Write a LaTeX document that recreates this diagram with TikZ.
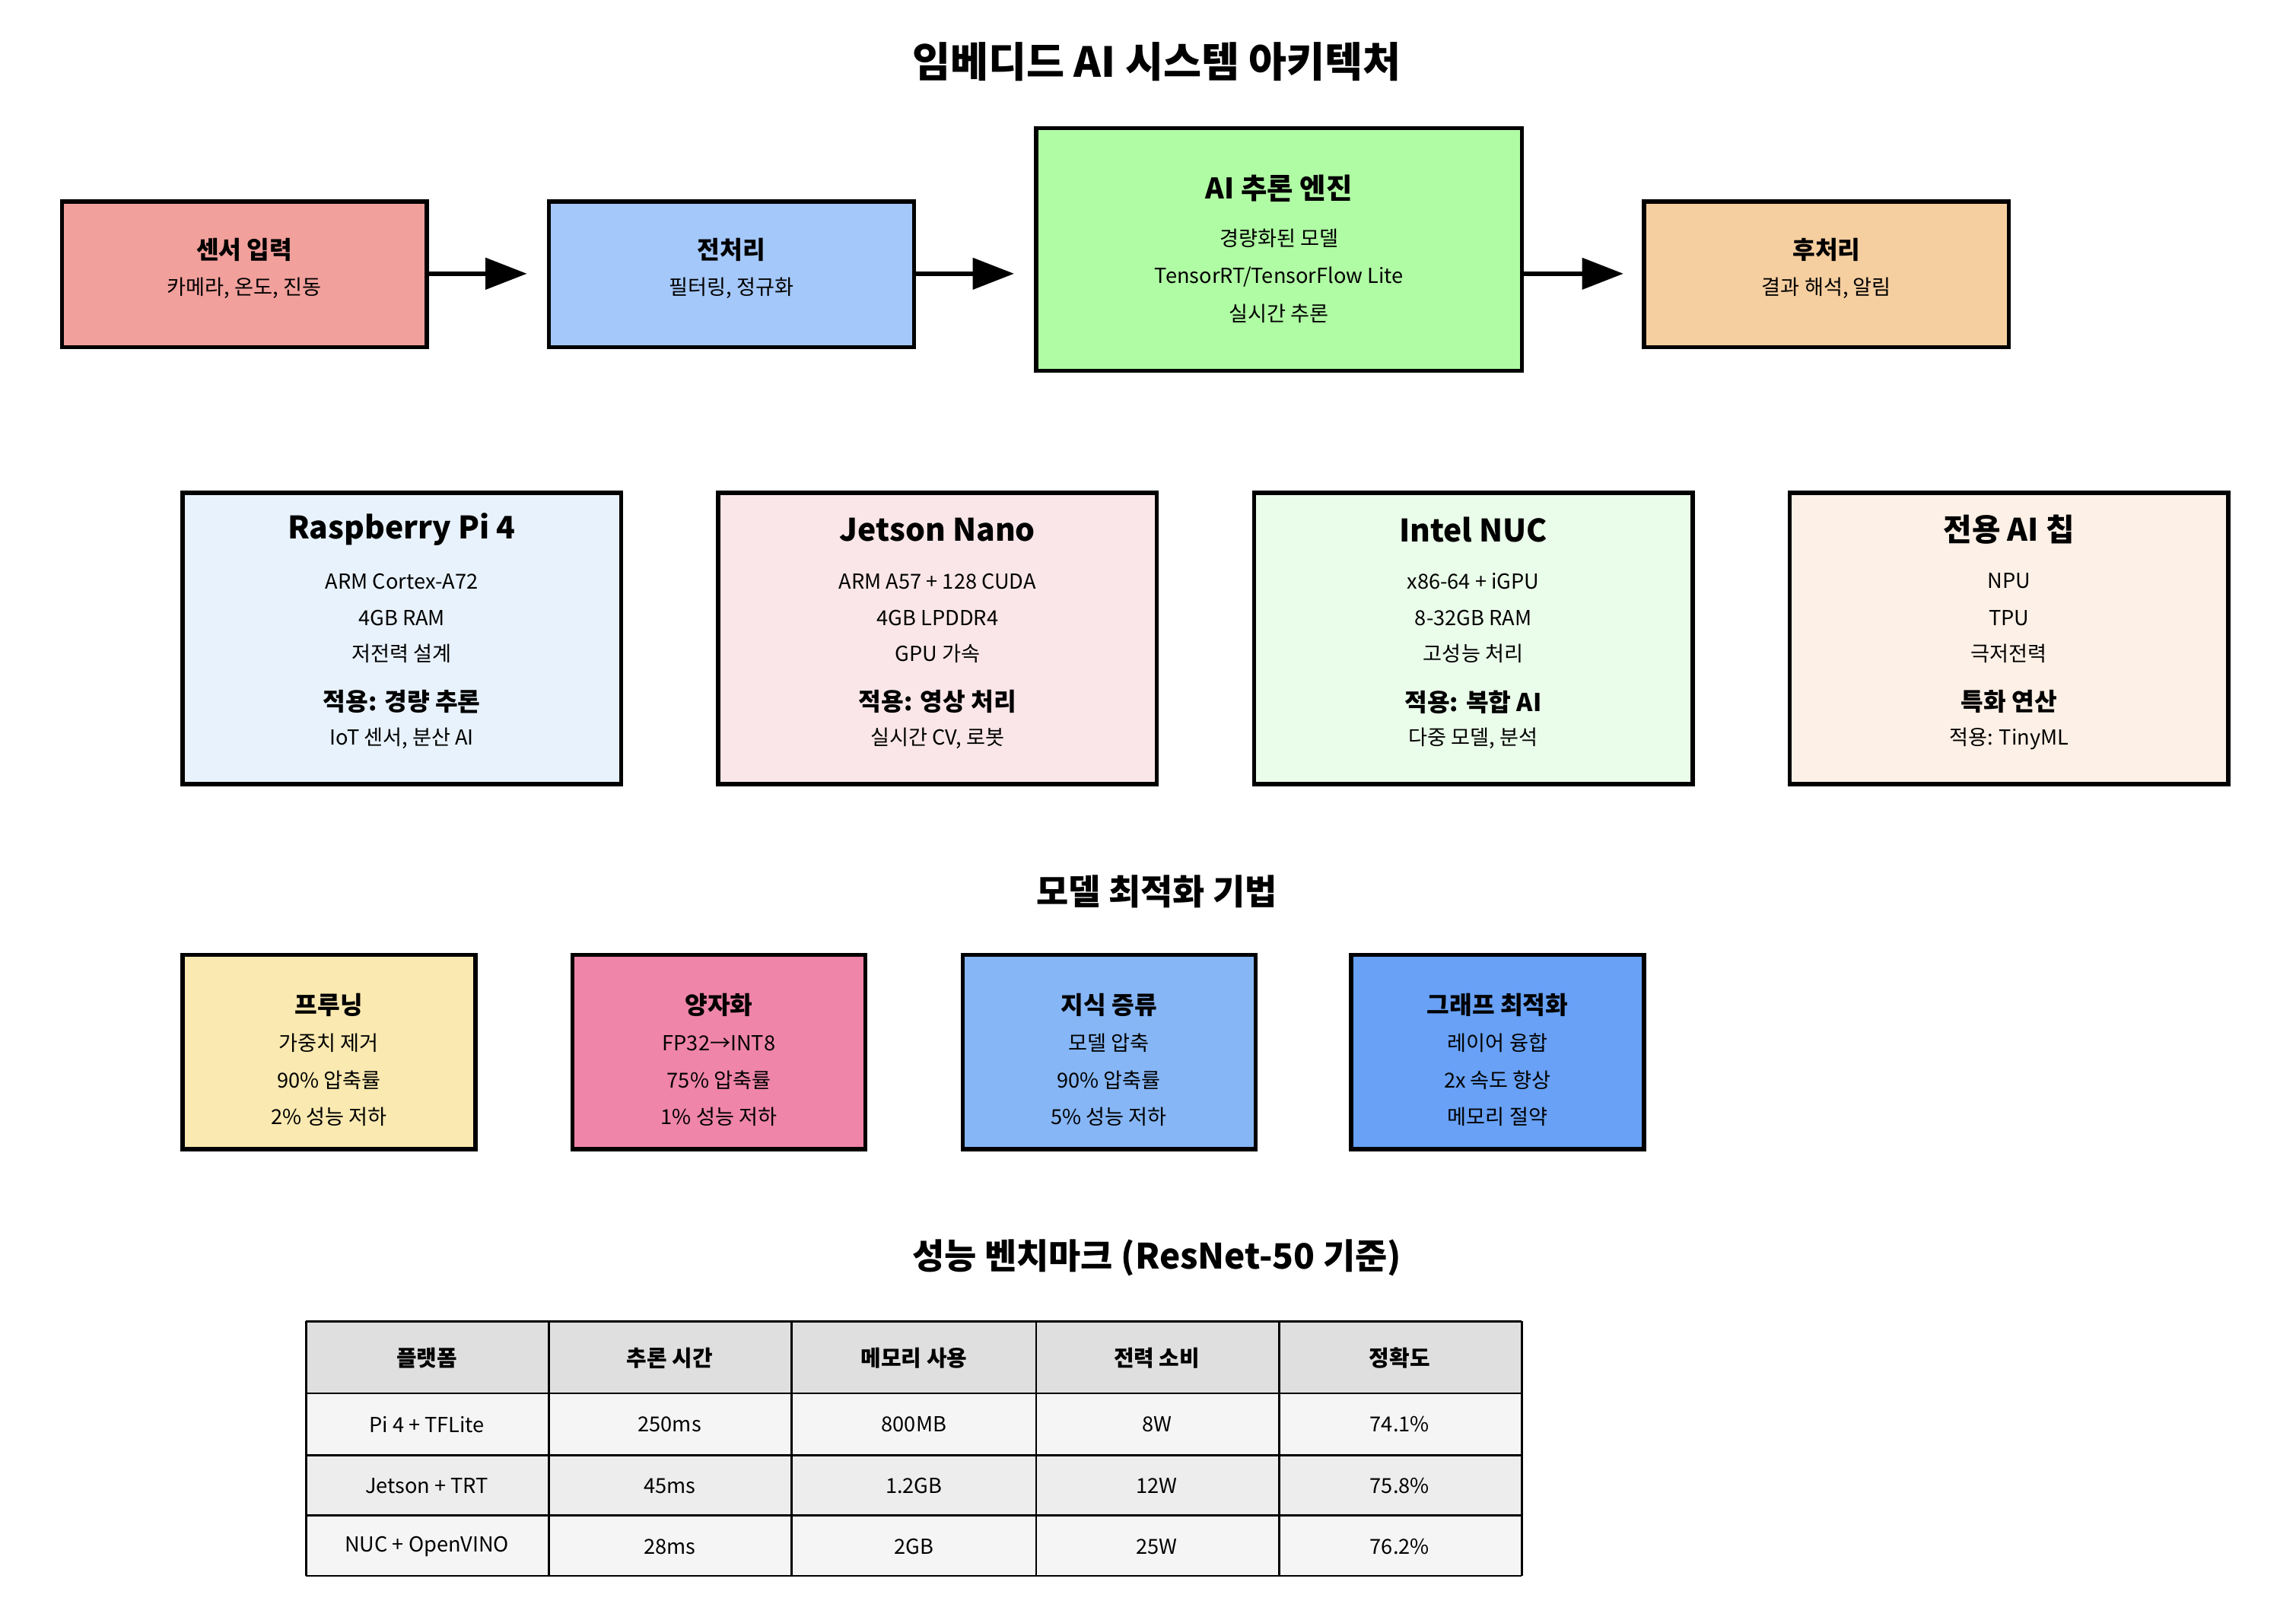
\documentclass[tikz,border=0pt]{standalone}
\usepackage{fontspec}
\setmainfont{Noto Sans CJK KR}
\usetikzlibrary{arrows.meta}
\definecolor{cA}{HTML}{F2A09C}\definecolor{cB}{HTML}{A5C8FA}\definecolor{cC}{HTML}{B0FCA4}\definecolor{cD}{HTML}{F6CFA0}
\definecolor{hA}{HTML}{E8F2FC}\definecolor{hB}{HTML}{FAE6E8}\definecolor{hC}{HTML}{EAFCEA}\definecolor{hD}{HTML}{FDF0E6}
\definecolor{oA}{HTML}{FAE9B0}\definecolor{oB}{HTML}{EF85A8}\definecolor{oC}{HTML}{86B6F6}\definecolor{oD}{HTML}{68A1F6}
\begin{document}
\begin{tikzpicture}[x=0.02cm,y=-0.02cm,
 box/.style={draw=black,line width=1.6pt},
 flow/.style={-{Triangle[length=16pt,width=12pt]},line width=1.6pt},
 bt/.style={font=\fontsize{9.5}{11}\selectfont\bfseries},
 st/.style={font=\fontsize{8}{10}\selectfont},
 ht/.style={font=\fontsize{12}{14}\selectfont\bfseries},
 sect/.style={font=\fontsize{13.5}{16}\selectfont\bfseries},
 cell/.style={draw=black,line width=0.8pt}]
\useasboundingbox (0,0) rectangle (1560,1103);
\node[font=\fontsize{16}{19}\selectfont\bfseries] (title) at (786,42) {임베디드 AI 시스템 아키텍처};
% top flow
\draw[box,fill=cA] (42,137) rectangle (290,236); \coordinate (s) at (290,186);
\node[bt] (s1) at (166,170) {센서 입력}; \node[st] (s2) at (166,196) {카메라, 온도, 진동};
\draw[box,fill=cB] (373,137) rectangle (621,236);
\node[bt] (p1) at (497,170) {전처리}; \node[st] (p2) at (497,196) {필터링, 정규화};
\draw[box,fill=cC] (704,87) rectangle (1034,252);
\node[font=\fontsize{11}{13}\selectfont\bfseries] (a1) at (869,128) {AI 추론 엔진};
\node[st] (a2) at (869,162) {경량화된 모델};
\node[st] (a3) at (869,188) {TensorRT/TensorFlow Lite};
\node[st] (a4) at (869,213) {실시간 추론};
\draw[box,fill=cD] (1117,137) rectangle (1365,236);
\node[bt] (q1) at (1241,170) {후처리}; \node[st] (q2) at (1241,196) {결과 해석, 알림};
\coordinate (e1) at (290,186); \coordinate (t1) at (358,186);
\coordinate (e2) at (621,186); \coordinate (t2) at (689,186);
\coordinate (e3) at (1034,186); \coordinate (t3) at (1103,186);
\draw[flow] (e1) -- (t1); \draw[flow] (e2) -- (t2); \draw[flow] (e3) -- (t3);
% hardware
\foreach \x/\c/\t/\a/\b/\d/\u/\v in {
 124/hA/Raspberry Pi 4/ARM Cortex-A72/4GB RAM/저전력 설계/적용: 경량 추론/IoT 센서{,} 분산 AI,
 488/hB/Jetson Nano/ARM A57 + 128 CUDA/4GB LPDDR4/GPU 가속/적용: 영상 처리/실시간 CV{,} 로봇,
 852/hC/Intel NUC/x86-64 + iGPU/8-32GB RAM/고성능 처리/적용: 복합 AI/다중 모델{,} 분석,
 1216/hD/전용 AI 칩/NPU/TPU/극저전력/특화 연산/적용: TinyML/배터리 기기}{
 \draw[box,fill=\c] (\x,335) rectangle ++(298,198);
 \node[ht] at (\x+149,360) {\t};
 \node[st] at (\x+149,395) {\a};
 \node[st] at (\x+149,420) {\b};
 \node[st] at (\x+149,444) {\d};
 \node[bt] at (\x+149,477) {\u};
 \node[st] at (\x+149,502) {\v};
}
\node[sect] (opt) at (786,606) {모델 최적화 기법};
\foreach \x/\c/\t/\a/\b/\d in {
 124/oA/프루닝/가중치 제거/90\% 압축률/2\% 성능 저하,
 389/oB/양자화/FP32→INT8/75\% 압축률/1\% 성능 저하,
 654/oC/지식 증류/모델 압축/90\% 압축률/5\% 성능 저하,
 918/oD/그래프 최적화/레이어 융합/2x 속도 향상/메모리 절약}{
 \draw[box,fill=\c] (\x,649) rectangle ++(199,132);
 \node[bt] at (\x+99.5,683) {\t};
 \node[st] at (\x+99.5,709) {\a};
 \node[st] at (\x+99.5,734) {\b};
 \node[st] at (\x+99.5,759) {\d};
}
\node[sect] (bench) at (786,855) {성능 벤치마크 (ResNet-50 기준)};
% table
\fill[gray!25] (208,898) rectangle (1034,947);
\fill[black!4] (208,947) rectangle (1034,989);
\fill[black!7] (208,989) rectangle (1034,1030);
\fill[black!4] (208,1030) rectangle (1034,1071);
\foreach \y in {898,947,989,1030,1071} \draw[cell] (208,\y) -- (1034,\y);
\foreach \x in {208,373,538,704,869,1034} \draw[cell] (\x,898) -- (\x,1071);
\foreach \x/\t in {290/플랫폼,455/추론 시간,621/메모리 사용,786/전력 소비,951/정확도}
 \node[bt,font=\fontsize{8.5}{10}\selectfont\bfseries] at (\x,923) {\t};
\foreach \y/\a/\b/\c/\d/\e in {968/Pi 4 + TFLite/250ms/800MB/8W/74.1\%,
 1010/Jetson + TRT/45ms/1.2GB/12W/75.8\%, 1051/NUC + OpenVINO/28ms/2GB/25W/76.2\%}{
 \node[st] at (290,\y) {\a}; \node[st] at (455,\y) {\b}; \node[st] at (621,\y) {\c};
 \node[st] at (786,\y) {\d}; \node[st] at (951,\y) {\e};
}
\end{tikzpicture}
\end{document}
